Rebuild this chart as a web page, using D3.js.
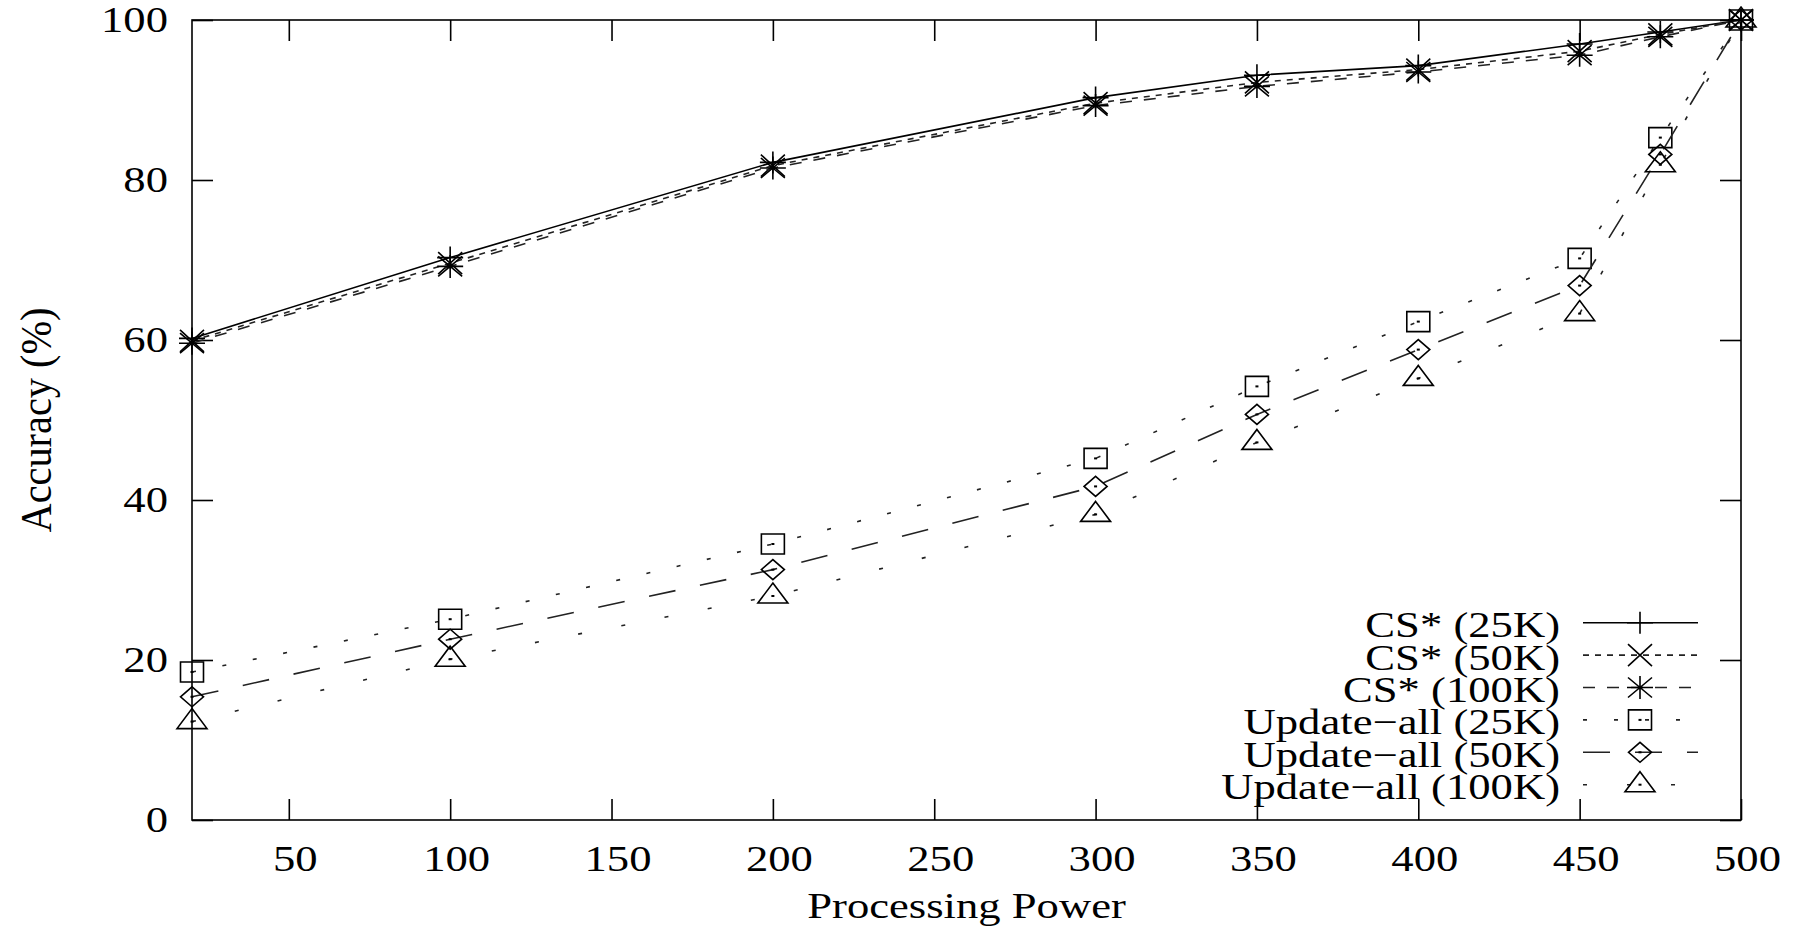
<!DOCTYPE html>
<html>
<head>
<meta charset="utf-8">
<script src="https://cdn.jsdelivr.net/npm/d3@7"></script>
<style>
    body { margin: 0; background: #fff; }
    text { font-family: 'Liberation Serif', 'Times New Roman', serif; fill: #000; }
</style>
</head>
<body>
<div id="viz"></div>
<script>
// processing power values on the x axis
const powers = [20, 100, 200, 300, 350, 400, 450, 475, 500];

// accuracy (%) per series
const cs25 = [60.2, 70.3, 82.2, 90.3, 93.1, 94.3, 97.0, 98.5, 100];
const cs50 = [59.9, 69.6, 81.8, 89.6, 92.2, 93.8, 96.1, 98.2, 100];
const cs100 = [59.6, 69.2, 81.5, 89.3, 91.7, 93.5, 95.6, 97.9, 100];
const upd25 = [18.5, 25.1, 34.5, 45.2, 54.2, 62.3, 70.2, 85.3, 100];
const upd50 = [15.4, 22.6, 31.3, 41.7, 50.7, 58.8, 66.8, 83.2, 100];
const upd100 = [12.3, 20.1, 28.0, 38.2, 47.2, 55.2, 63.3, 81.9, 100];

const seriesNames = ['CS* (25K)', 'CS* (50K)', 'CS* (100K)',
                     'Update\u2212all (25K)', 'Update\u2212all (50K)', 'Update\u2212all (100K)'];
const seriesValues = [cs25, cs50, cs100, upd25, upd50, upd100];

const xTicks = [50, 100, 150, 200, 250, 300, 350, 400, 450, 500];
const yTicks = [0, 20, 40, 60, 80, 100];

// styles, one per series (gnuplot-like)
const dashes = [null, '6,6', '12,12', '4,27', '27,25', '4,40'];
const markers = ['plus', 'cross', 'star', 'box', 'diamond', 'triangle'];

const markerPaths = {
    plus: 'M-13,0H13M0,-11V11',
    cross: 'M-12,-11L12,11M-12,11L12,-11',
    star: 'M-13,0H13M0,-11.5V11.5M-12,-10L12,10M-12,10L12,-10',
    box: 'M-11.5,-10H11.5V10H-11.5Z',
    diamond: 'M-11.5,0L0,-10L11.5,0L0,10Z',
    triangle: 'M0,-13L15,7H-15Z'
};
const dotted = { box: true, diamond: true, triangle: true };

function buildChart(containerId) {
    const width = 1802;
    const height = 927;
    const stretch = 1.24;
    const fontSize = 36;

    const margin = {
        top: 20,
        bottom: 107,
        right: 61,
        left: 192
    }

    const innerWidth = width - margin.left - margin.right;
    const innerHeight = height - margin.top - margin.bottom;

    const svg = d3.select(containerId)
                    .append('svg')
                    .attr('height', height)
                    .attr('width', width);

    const g = svg.append('g')
                .attr('transform', 'translate(' + margin.left + ',' + margin.top + ')');

    const x = d3.scaleLinear()
                .domain([20, 500])
                .range([0, innerWidth]);

    const y = d3.scaleLinear()
                .domain([0, 100])
                .range([innerHeight, 0]);

    const tickLen = 21;

    // axes: ticks point inward, mirrored on top and right
    const yAxis = g.append('g')
     .attr('class', 'y-axis')
     .call(d3.axisLeft(y).tickValues(yTicks).tickSize(-tickLen).tickPadding(24));

    const xAxis = g.append('g')
     .attr('class', 'x-axis')
     .attr('transform', 'translate(0,' + innerHeight + ')')
     .call(d3.axisBottom(x).tickValues(xTicks).tickSize(-tickLen).tickPadding(25));

    g.append('g')
     .attr('transform', 'translate(' + innerWidth + ',0)')
     .call(d3.axisRight(y).tickValues(yTicks).tickSize(-tickLen).tickFormat(''));

    g.append('g')
     .call(d3.axisTop(x).tickValues(xTicks).tickSize(-tickLen).tickFormat(''));

    g.selectAll('.domain').remove();
    g.selectAll('.tick line')
     .attr('stroke', '#000')
     .attr('stroke-width', 1.6);

    yAxis.selectAll('text')
     .attr('font-size', fontSize)
     .attr('x', -24 / stretch)
     .attr('transform', 'scale(' + stretch + ',1)');

    xAxis.selectAll('text')
     .attr('font-size', fontSize)
     .attr('transform', 'translate(6,0) scale(' + stretch + ',1)');

    g.selectAll('.tick text').attr('fill', '#000').attr('font-family', null);

    g.append('rect')
     .attr('x', 0)
     .attr('y', 0)
     .attr('width', innerWidth)
     .attr('height', innerHeight)
     .attr('fill', 'none')
     .attr('stroke', '#000')
     .attr('stroke-width', 1.6);

    const line = d3.line()
                   .x(d => x(d[0]))
                   .y(d => y(d[1]));

    function drawMarker(parent, type, px, py) {
        parent.append('path')
              .attr('transform', 'translate(' + px + ',' + py + ')')
              .attr('d', markerPaths[type])
              .attr('fill', 'none')
              .attr('stroke', '#000')
              .attr('stroke-width', 1.6);
        if (dotted[type]) {
            parent.append('rect')
                  .attr('x', px - 1.5)
                  .attr('y', py - 1)
                  .attr('width', 3)
                  .attr('height', 2)
                  .attr('fill', '#000');
        }
    }

    seriesValues.forEach((vals, i) => {
        const pts = powers.map((p, j) => [p, vals[j]]);

        g.append('path')
         .datum(pts)
         .attr('d', line)
         .attr('fill', 'none')
         .attr('stroke', i === 0 ? '#000' : '#222')
         .attr('stroke-width', 1.6)
         .attr('stroke-dasharray', dashes[i]);

        const mg = g.append('g');
        pts.forEach(d => drawMarker(mg, markers[i], x(d[0]), y(d[1])));
    });

    // legend
    const legend = svg.append('g').attr('class', 'legend');
    const legendTop = 622.7;
    const legendStep = 32.4;

    seriesNames.forEach((name, i) => {
        const ly = legendTop + i * legendStep;

        legend.append('text')
              .attr('transform', 'translate(1560,' + ly + ') scale(' + stretch + ',1)')
              .attr('text-anchor', 'end')
              .attr('dy', '0.4em')
              .attr('font-size', fontSize)
              .text(name);

        legend.append('line')
              .attr('x1', 1583)
              .attr('x2', 1698)
              .attr('y1', ly)
              .attr('y2', ly)
              .attr('stroke', i === 0 ? '#000' : '#222')
              .attr('stroke-width', 1.6)
              .attr('stroke-dasharray', dashes[i]);

        drawMarker(legend, markers[i], 1640, ly);
    });

    svg.append('text')
     .attr('class', 'x-axis-label')
     .attr('transform', 'translate(' + (margin.left + innerWidth / 2) + ',918) scale(' + stretch + ',1)')
     .attr('text-anchor', 'middle')
     .attr('font-size', fontSize)
     .text('Processing Power');

    svg.append('text')
     .attr('class', 'y-axis-label')
     .attr('transform', 'translate(36,' + (margin.top + innerHeight / 2) + ') rotate(-90) scale(1.12,' + stretch + ')')
     .attr('text-anchor', 'middle')
     .attr('dominant-baseline', 'central')
     .attr('font-size', fontSize)
     .text('Accuracy (%)');
}

buildChart('#viz');
</script>
</body>
</html>
